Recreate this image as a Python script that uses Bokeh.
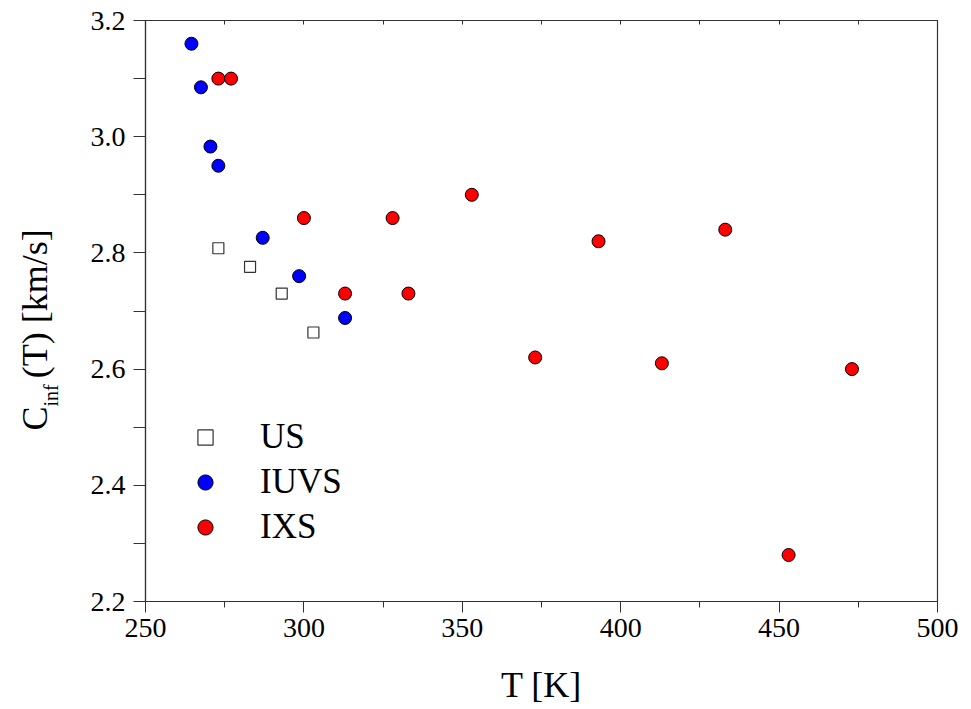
import math
from bokeh.plotting import figure
from bokeh.models import (Range1d, FixedTicker, LinearAxis, Legend, LegendItem,
                          Label, PrintfTickFormatter)
from bokeh.embed import file_html
from bokeh.resources import INLINE

# ---- data ----
US_T = [273, 283, 293, 303]
US_C = [2.808, 2.776, 2.730, 2.663]

IUVS_T = [264.5, 267.5, 270.5, 273, 287, 298.5, 313]
IUVS_C = [3.160, 3.085, 2.983, 2.950, 2.826, 2.760, 2.688]

IXS_T = [273, 277, 300, 313, 328, 333, 353, 373, 393, 413, 433, 453, 473]
IXS_C = [3.10, 3.10, 2.86, 2.73, 2.86, 2.73, 2.90, 2.62, 2.82, 2.61, 2.84, 2.28, 2.60]

X_TICKS = [250, 300, 350, 400, 450, 500]
X_MINOR = [275, 325, 375, 425, 475]
Y_TICKS = [2.2, 2.4, 2.6, 2.8, 3.0, 3.2]
Y_MINOR = [2.3, 2.5, 2.7, 2.9, 3.1]

X0, X1 = 250, 500
Y0, Y1 = 2.2, 3.2
FW, FH = 792, 581

FONT = "Liberation Serif"
AX = "#333333"

p = figure(width=971, height=709, frame_width=FW, frame_height=FH,
           x_range=Range1d(X0, X1), y_range=Range1d(Y0, Y1),
           output_backend="svg", toolbar_location=None,
           min_border_left=145, min_border_right=34,
           min_border_top=20, min_border_bottom=108)
p.grid.visible = False
p.outline_line_color = AX
p.outline_line_width = 1.2
p.background_fill_color = "white"
p.border_fill_color = "white"

# x axis
xa = p.xaxis[0]
xa.ticker = FixedTicker(ticks=X_TICKS, minor_ticks=X_MINOR)
xa.major_tick_out = 11
xa.major_tick_in = 0
xa.minor_tick_out = 6
xa.minor_tick_in = 0
xa.axis_line_color = AX
xa.major_tick_line_color = AX
xa.minor_tick_line_color = AX
xa.axis_line_width = 1.2
xa.major_label_text_font = FONT
xa.major_label_text_font_size = "28px"
xa.major_label_text_color = "black"
xa.major_label_standoff = 6
xa.axis_label = "T [K]"
xa.axis_label_text_font = FONT
xa.axis_label_text_font_size = "36px"
xa.axis_label_text_font_style = "normal"
xa.axis_label_text_color = "black"
xa.axis_label_standoff = 25

# y axis
ya = p.yaxis[0]
ya.ticker = FixedTicker(ticks=Y_TICKS, minor_ticks=Y_MINOR)
ya.formatter = PrintfTickFormatter(format="%.1f")
ya.major_tick_out = 12
ya.major_tick_in = 0
ya.minor_tick_out = 12
ya.minor_tick_in = 0
ya.axis_line_color = AX
ya.major_tick_line_color = AX
ya.minor_tick_line_color = AX
ya.axis_line_width = 1.2
ya.major_label_text_font = FONT
ya.major_label_text_font_size = "28px"
ya.major_label_text_color = "black"
ya.major_label_standoff = 8

# top axis: inward ticks only
top = LinearAxis(ticker=FixedTicker(ticks=X_TICKS, minor_ticks=X_MINOR))
top.major_tick_in = 4
top.major_tick_out = 0
top.minor_tick_in = 4
top.minor_tick_out = 0
top.axis_line_color = AX
top.major_tick_line_color = AX
top.minor_tick_line_color = AX
top.major_label_overrides = {t: "" for t in X_TICKS}
top.major_label_standoff = 0
p.add_layout(top, "above")

# data
r_us = p.scatter(US_T, US_C, marker="square", size=11, fill_color="white",
                 line_color="#333333", line_width=1.2)
r_iuvs = p.scatter(IUVS_T, IUVS_C, marker="circle", size=13, fill_color="#0000ff",
                   line_color="black", line_width=1)
r_ixs = p.scatter(IXS_T, IXS_C, marker="circle", size=13, fill_color="#ff0000",
                  line_color="black", line_width=1)

legend = Legend(items=[LegendItem(label="US", renderers=[r_us]),
                       LegendItem(label="IUVS", renderers=[r_iuvs]),
                       LegendItem(label="IXS", renderers=[r_ixs])],
                location=(41, 54))
legend.glyph_width = 38
legend.glyph_height = 38
legend.label_height = 38
legend.spacing = 5
legend.padding = 0
legend.margin = 0
legend.label_standoff = 36
legend.label_text_font = FONT
legend.label_text_font_size = "35px"
legend.label_text_color = "black"
legend.border_line_color = None
legend.background_fill_alpha = 0
p.add_layout(legend, "center")

# y axis label: C_inf (T) [km/s], built from pieces (rotated).
# Placed in side panels (positioned through the data scales) so they are not clipped.
ppx = FW / (X1 - X0)      # pixels per x unit
ppy = FH / (Y1 - Y0)      # pixels per y unit


def dx(px):  # horizontal pixel offset from frame left -> data x
    return X0 + px / ppx


def dy(px):  # vertical pixel offset from frame bottom -> data y
    return Y0 + px / ppy


base_x = -111          # baseline, pixels relative to frame left
start_y = 171          # pixels relative to frame bottom
fs_main = 36
fs_sub = 20
c_w = 0.667 * fs_main
sub_w = (0.278 + 0.5 + 0.333) * fs_sub
ang = math.pi / 2
p.add_layout(Label(x=dx(base_x), y=dy(start_y),
                   text="C", angle=ang, text_font=FONT, text_color="black",
                   text_font_size=f"{fs_main}px", text_align="left",
                   text_baseline="alphabetic"), "left")
p.add_layout(Label(x=dx(base_x), y=dy(start_y + c_w + sub_w + 6),
                   text="(T) [km/s]", angle=ang, text_font=FONT, text_color="black",
                   text_font_size=f"{fs_main}px", text_align="left",
                   text_baseline="alphabetic"), "left")
p.add_layout(Label(x=dx(base_x + 16), y=dy(start_y + c_w),
                   text="inf", angle=ang, text_font=FONT, text_color="black",
                   text_font_size=f"{fs_sub}px", text_align="left",
                   text_baseline="alphabetic"), "right")

open("out.html", "w").write(file_html(p, INLINE))
